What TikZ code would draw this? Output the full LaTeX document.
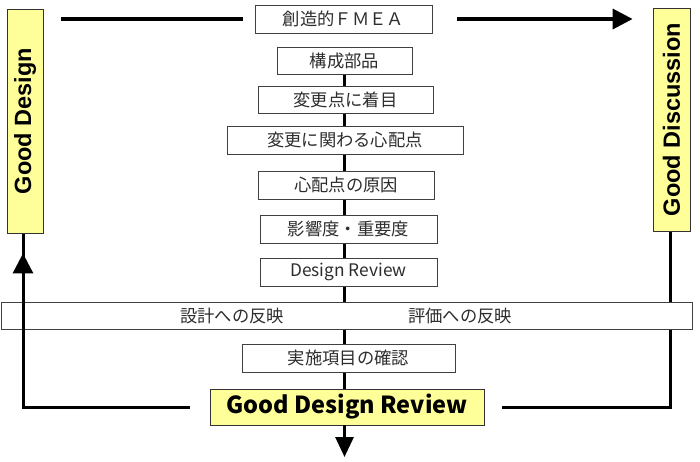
\documentclass[tikz,border=0pt]{standalone}
\usepackage{fontspec}
\setmainfont{Liberation Sans}
\newfontfamily\jp{Noto Sans CJK JP}
\usetikzlibrary{arrows.meta,backgrounds}
\definecolor{boxyellow}{RGB}{255,255,153}
\definecolor{txtgray}{RGB}{45,45,45}
\tikzset{
  stepbox/.style={draw=black!75, line width=0.8pt, fill=white, inner sep=0pt,
    text=txtgray, font=\jp\fontsize{17.3}{19}\selectfont},
  steptext/.style={text=txtgray, font=\jp\fontsize{17.3}{19}\selectfont, inner sep=0pt},
  ybox/.style={draw=black!80, line width=0.8pt, fill=boxyellow, inner sep=0pt},
  flow/.style={line width=3pt, draw=black},
  topflow/.style={line width=3.5pt, draw=black},
  tip/.style={-{Triangle[width=20pt,length=20pt]}}
}
\begin{document}
\begin{tikzpicture}[x=1pt,y=-1pt]
\useasboundingbox (0,0) rectangle (700,461);
% side boxes
\node[ybox, minimum width=36pt, minimum height=224pt] (gd) at (25,121)
  {\rotatebox{90}{\fontsize{23.5}{26}\selectfont\bfseries Good Design}};
\node[ybox, minimum width=37pt, minimum height=223pt] (gdisc) at (671.5,119.5)
  {\rotatebox{90}{\fontsize{23.5}{26}\selectfont\bfseries Good Discussion}};
% steps
\node[stepbox, minimum width=177pt, minimum height=28pt] (fmea) at (343.5,19) {創造的ＦＭＥＡ};
\node[stepbox, minimum width=135pt, minimum height=27pt] (b1) at (344.5,60.5) {構成部品};
\node[stepbox, minimum width=175pt, minimum height=27pt] (b2) at (345.5,99.5) {変更点に着目};
\node[stepbox, minimum width=236pt, minimum height=28pt] (b3) at (345,140) {変更に関わる心配点};
\node[stepbox, minimum width=176pt, minimum height=28pt] (b4) at (346,185) {心配点の原因};
\node[stepbox, minimum width=177pt, minimum height=28pt] (b5) at (348.5,229) {影響度・重要度};
\node[stepbox, minimum width=177pt, minimum height=28pt] (b6) at (348.5,272) {Design Review};
\node[stepbox, minimum width=691pt, minimum height=27pt] (wide) at (346.5,315.5) {};
\node[steptext] (refd) at (232,315.5) {設計への反映};
\node[steptext] (refe) at (460,315.5) {評価への反映};
\node[stepbox, minimum width=213pt, minimum height=28pt] (b7) at (348.5,358) {実施項目の確認};
\node[ybox, minimum width=274pt, minimum height=36pt, font=\jp\bfseries\fontsize{23.5}{26}\selectfont] (gdr) at (347,407) {Good Design Review};
\coordinate (endpt) at (344.5,457);
\begin{scope}[on background layer]
  \draw[flow] (b1.south) -- (b1.south |- gdr.north);
  \draw[flow] ([xshift=-20pt]gdr.west) -| ([xshift=-2pt]gd.south);
  \draw[flow] ([xshift=18pt]gdr.east) -| ([xshift=-1.5pt,yshift=7pt]gdisc.south);
\end{scope}
\draw[flow, -{Triangle[width=18pt,length=20pt]}] (b1.south |- gdr.south) -- (endpt);
\draw[flow, -{Triangle[width=20pt,length=20pt]}, shorten >=20pt] ([xshift=-20pt]gdr.west) -| ([xshift=-2pt]gd.south);
\draw[topflow] ([xshift=18pt]gd.east |- fmea.west) -- ([xshift=-12pt]fmea.west);
\draw[topflow, tip] ([xshift=25pt]fmea.east) -- ([xshift=-20pt]gdisc.west |- fmea.east);
\end{tikzpicture}
\end{document}
